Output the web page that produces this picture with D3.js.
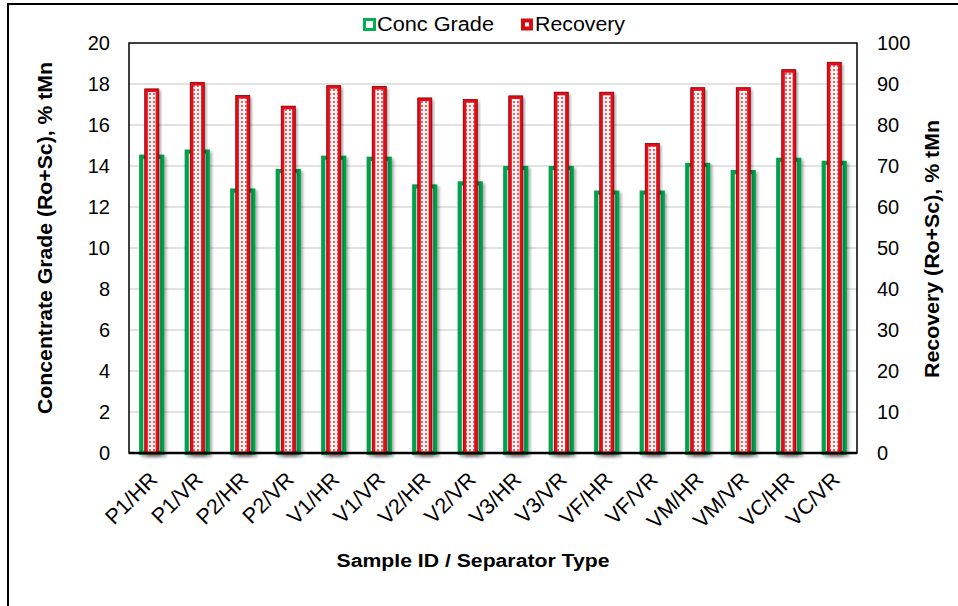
<!DOCTYPE html>
<html>
<head>
<meta charset="utf-8">
<script src="https://cdn.jsdelivr.net/npm/d3@7"></script>
<style>
  html, body { margin: 0; padding: 0; background: #fff; }
  svg { display: block; font-family: Arial, "Liberation Sans", sans-serif; }
</style>
</head>
<body>
<svg id="chart" width="958" height="606"></svg>
<script>
// Sample / separator combinations
const categories = ["P1/HR", "P1/VR", "P2/HR", "P2/VR", "V1/HR", "V1/VR", "V2/HR", "V2/VR",
                    "V3/HR", "V3/VR", "VF/HR", "VF/VR", "VM/HR", "VM/VR", "VC/HR", "VC/VR"];
// Concentrate grade (Ro+Sc), % tMn
const concGrade = [14.55, 14.8, 12.9, 13.85, 14.5, 14.45, 13.1, 13.25,
                   14.0, 14.0, 12.8, 12.8, 14.15, 13.8, 14.4, 14.25];
// Recovery (Ro+Sc), % tMn
const recovery = [88.8, 90.4, 87.2, 84.6, 89.6, 89.4, 86.6, 86.2,
                  87.1, 88.0, 88.0, 75.5, 89.1, 89.1, 93.5, 95.3];
const leftTicks = [0, 2, 4, 6, 8, 10, 12, 14, 16, 18, 20];
const rightTicks = [0, 10, 20, 30, 40, 50, 60, 70, 80, 90, 100];

const svg = d3.select("#chart");
const plot = { left: 129, right: 857, top: 43, bottom: 453 };

const defs = svg.append("defs");
// dotted fill for the recovery bars
const pat = defs.append("pattern")
  .attr("id", "dots").attr("patternUnits", "userSpaceOnUse")
  .attr("width", 4).attr("height", 4);
pat.append("rect").attr("width", 4).attr("height", 4).attr("fill", "#fff6f4");
pat.append("circle").attr("cx", 2).attr("cy", 2).attr("r", 0.95).attr("fill", "#e8202a");
// soft shadow under bars
const sh = defs.append("filter").attr("id", "shadow")
  .attr("x", "-40%").attr("y", "-10%").attr("width", "180%").attr("height", "130%");
sh.append("feDropShadow").attr("dx", 2).attr("dy", 2).attr("stdDeviation", 1.6)
  .attr("flood-color", "#000").attr("flood-opacity", 0.35);

// outer frame
svg.append("path").attr("d", "M8,606 L8,4 L958,4")
  .attr("fill", "none").attr("stroke", "#000").attr("stroke-width", 2);

const x = d3.scaleBand().domain(categories).range([plot.left, plot.right]).padding(0);
const yL = d3.scaleLinear().domain([0, 20]).range([plot.bottom, plot.top]);
const yR = d3.scaleLinear().domain([0, 100]).range([plot.bottom, plot.top]);

// gridlines
svg.append("g").selectAll("line").data(leftTicks.filter(d => d > 0 && d < 20)).join("line")
  .attr("x1", plot.left).attr("x2", plot.right)
  .attr("y1", d => yL(d)).attr("y2", d => yL(d))
  .attr("stroke", "#d9d9d9").attr("stroke-width", 1.5);

const bw = x.bandwidth();
// concentrate grade bars (outlined)
svg.append("g").selectAll("rect").data(concGrade).join("rect")
  .attr("x", (d, i) => x(categories[i]) + bw / 2 - 10.5)
  .attr("width", 21)
  .attr("y", d => yL(d) + 2)
  .attr("height", d => plot.bottom - yL(d) - 2)
  .attr("fill", "#fff").attr("stroke", "#00a14b").attr("stroke-width", 4.2)
  .attr("filter", "url(#shadow)");

// recovery bars (dotted)
svg.append("g").selectAll("rect").data(recovery).join("rect")
  .attr("x", (d, i) => x(categories[i]) + bw / 2 - 5.5)
  .attr("width", 11)
  .attr("y", d => yR(d) + 1.5)
  .attr("height", d => plot.bottom - yR(d) - 1.5)
  .attr("fill", "url(#dots)").attr("stroke", "#e3101b").attr("stroke-width", 3.2)
  .attr("filter", "url(#shadow)");
svg.append("g").selectAll("rect").data(recovery).join("rect")
  .attr("x", (d, i) => x(categories[i]) + bw / 2 - 7)
  .attr("width", 14)
  .attr("y", d => yR(d))
  .attr("height", d => plot.bottom - yR(d))
  .attr("fill", "none").attr("stroke", "#8b0000").attr("stroke-width", 0.8);

// plot area border
svg.append("rect")
  .attr("x", plot.left).attr("y", plot.top)
  .attr("width", plot.right - plot.left).attr("height", plot.bottom - plot.top)
  .attr("fill", "none").attr("stroke", "#000").attr("stroke-width", 1.5);
svg.append("line").attr("x1", plot.left).attr("x2", plot.right)
  .attr("y1", plot.bottom).attr("y2", plot.bottom)
  .attr("stroke", "#000").attr("stroke-width", 2.5);

// axes
const axL = svg.append("g").attr("transform", `translate(${plot.left},0)`)
  .call(d3.axisLeft(yL).tickValues(leftTicks).tickSize(0).tickPadding(19));
const axR = svg.append("g").attr("transform", `translate(${plot.right},0)`)
  .call(d3.axisRight(yR).tickValues(rightTicks).tickSize(0).tickPadding(20));
const axB = svg.append("g").attr("transform", `translate(0,${plot.bottom})`)
  .call(d3.axisBottom(x).tickSize(0));
[axL, axR, axB].forEach(a => {
  a.select(".domain").remove();
  a.selectAll("text").attr("font-size", 20).attr("fill", "#000")
    .attr("font-family", "Arial, 'Liberation Sans', sans-serif");
});
axB.selectAll("text")
  .attr("font-size", 21.5)
  .attr("text-anchor", "end")
  .attr("dy", 0).attr("y", 0)
  .attr("transform", "translate(7,28) rotate(-45)");

// axis titles
svg.append("text")
  .attr("transform", "translate(52,238) rotate(-90)")
  .attr("text-anchor", "middle").attr("font-size", 20.5).attr("font-weight", "bold")
  .attr("textLength", 352).attr("lengthAdjust", "spacingAndGlyphs")
  .text("Concentrate Grade (Ro+Sc), % tMn");
svg.append("text")
  .attr("transform", "translate(939,249) rotate(-90)")
  .attr("text-anchor", "middle").attr("font-size", 20.5).attr("font-weight", "bold")
  .attr("textLength", 258).attr("lengthAdjust", "spacingAndGlyphs")
  .text("Recovery (Ro+Sc), % tMn");
svg.append("text")
  .attr("x", 473).attr("y", 567)
  .attr("text-anchor", "middle").attr("font-size", 18).attr("font-weight", "bold")
  .attr("textLength", 273).attr("lengthAdjust", "spacingAndGlyphs")
  .text("Sample ID / Separator Type");

// legend
const legend = svg.append("g");
legend.append("rect").attr("x", 364.5).attr("y", 19.5).attr("width", 10).attr("height", 10)
  .attr("fill", "#fff").attr("stroke", "#00b050").attr("stroke-width", 3);
legend.append("text").attr("x", 377).attr("y", 31).attr("font-size", 19.5)
  .attr("textLength", 117).attr("lengthAdjust", "spacingAndGlyphs").text("Conc Grade");
legend.append("rect").attr("x", 521).attr("y", 18.5).attr("width", 12).attr("height", 12)
  .attr("fill", "#d40d12");
legend.append("rect").attr("x", 525).attr("y", 22.5).attr("width", 4).attr("height", 4)
  .attr("fill", "#fff");
legend.append("text").attr("x", 535).attr("y", 31).attr("font-size", 19.5)
  .attr("textLength", 90).attr("lengthAdjust", "spacingAndGlyphs").text("Recovery");
</script>
</body>
</html>
